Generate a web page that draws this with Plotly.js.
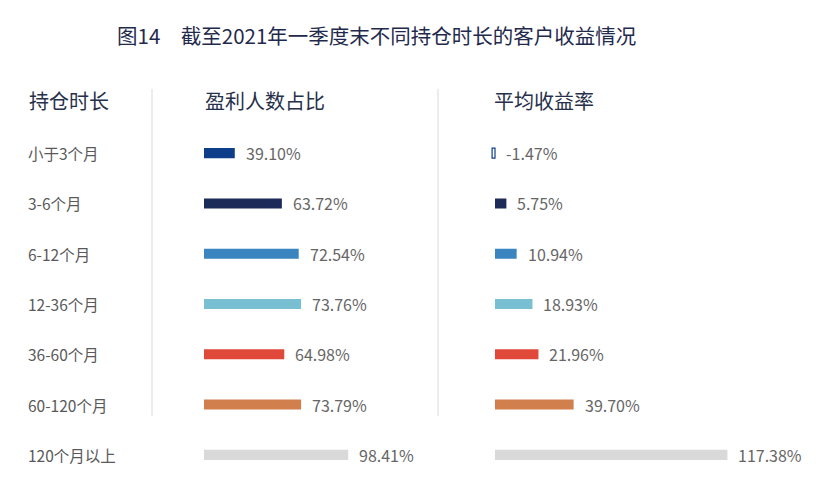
<!DOCTYPE html>
<html>
<head>
<meta charset="utf-8">
<script src="https://cdn.plot.ly/plotly-3.0.1.min.js"></script>
<style>html,body{margin:0;padding:0;background:#fff;}#chart{width:831px;height:491px;}</style>
</head>
<body>
<div id="chart"></div>
<script>
// ---- data ----
var categories = ['小于3个月', '3-6个月', '6-12个月', '12-36个月', '36-60个月', '60-120个月', '120个月以上'];
var profitShare = [39.10, 63.72, 72.54, 73.76, 64.98, 73.79, 98.41];      // 盈利人数占比 (%)
var avgReturn = [-1.47, 5.75, 10.94, 18.93, 21.96, 39.70, 117.38];        // 平均收益率 (%)
var titleText = '图14　截至2021年一季度末不同持仓时长的客户收益情况';
var headers = ['持仓时长', '盈利人数占比', '平均收益率'];

// ---- styles ----
var barColors = ['#0e3d8a', '#1c2b57', '#3a85bf', '#78bfd2', '#e0493a', '#d27f4e', '#d9d9d9'];
var FONT = '"Noto Sans CJK SC", "Noto Sans", sans-serif';
var W = 831;

function fillFor(v, i) { return v < 0 ? '#ffffff' : barColors[i]; }
function lineW(v) { return v < 0 ? 1.2 : 0; }

var trace1 = {
  type: 'bar', orientation: 'h',
  x: profitShare, y: categories,
  xaxis: 'x', yaxis: 'y',
  width: 0.2,
  marker: { color: barColors, line: { width: 0 } },
  hoverinfo: 'skip'
};
var trace2 = {
  type: 'bar', orientation: 'h',
  x: avgReturn, y: categories,
  xaxis: 'x2', yaxis: 'y',
  width: 0.2,
  marker: {
    color: avgReturn.map(fillFor),
    line: { width: avgReturn.map(lineW), color: avgReturn.map(function (v, i) { return barColors[i]; }) }
  },
  hoverinfo: 'skip'
};

var annotations = [];
// title
annotations.push({
  text: titleText, xref: 'paper', yref: 'paper', x: 115 / W, y: 1.264,
  xanchor: 'left', yanchor: 'middle', showarrow: false,
  font: { family: FONT, size: 20.5, color: '#1f2a4d' }
});
// headers
var headerX = [27, 203, 492];
headers.forEach(function (h, i) {
  annotations.push({
    text: h, xref: 'paper', yref: 'paper', x: headerX[i] / W, y: 1.0795,
    xanchor: 'left', yanchor: 'middle', showarrow: false,
    font: { family: FONT, size: 20, color: '#27304a' }
  });
});
// row labels + value labels
categories.forEach(function (c, i) {
  annotations.push({
    text: c, xref: 'paper', yref: 'y', x: 26 / W, y: c,
    xanchor: 'left', yanchor: 'middle', showarrow: false,
    font: { family: FONT, size: 15.5, color: '#595959' }
  });
  annotations.push({
    text: profitShare[i].toFixed(2) + '%', xref: 'x', yref: 'y', x: profitShare[i], y: c,
    xanchor: 'left', yanchor: 'middle', xshift: 9, showarrow: false,
    font: { family: FONT, size: 16, color: '#666666' }
  });
  annotations.push({
    text: avgReturn[i].toFixed(2) + '%', xref: 'x2', yref: 'y', x: Math.max(avgReturn[i], 0), y: c,
    xanchor: 'left', yanchor: 'middle', xshift: 9, showarrow: false,
    font: { family: FONT, size: 16, color: '#666666' }
  });
});

var shapes = [152, 438].map(function (px) {
  return {
    type: 'line', xref: 'paper', yref: 'paper',
    x0: px / W, x1: px / W, y0: 1.111, y1: 0.182,
    line: { color: '#d9d9d9', width: 1 }
  };
});

var layout = {
  width: 831, height: 491,
  margin: { l: 0, r: 0, t: 128, b: 11, pad: 0 },
  paper_bgcolor: '#ffffff', plot_bgcolor: '#ffffff',
  showlegend: false,
  font: { family: FONT },
  xaxis: {
    domain: [204 / W, 0.5], range: [23, 23 + (415.5 - 204) / 1.912],
    visible: false, fixedrange: true
  },
  xaxis2: {
    domain: [0.5, 1], range: [-(495 - 415.5) / 1.98, (831 - 495) / 1.98],
    visible: false, fixedrange: true
  },
  yaxis: {
    type: 'category', categoryorder: 'array', categoryarray: categories,
    range: [6.5, -0.5], visible: false, fixedrange: true
  },
  annotations: annotations,
  shapes: shapes
};

Plotly.newPlot('chart', [trace1, trace2], layout, { displayModeBar: false, staticPlot: true });
</script>
</body>
</html>
